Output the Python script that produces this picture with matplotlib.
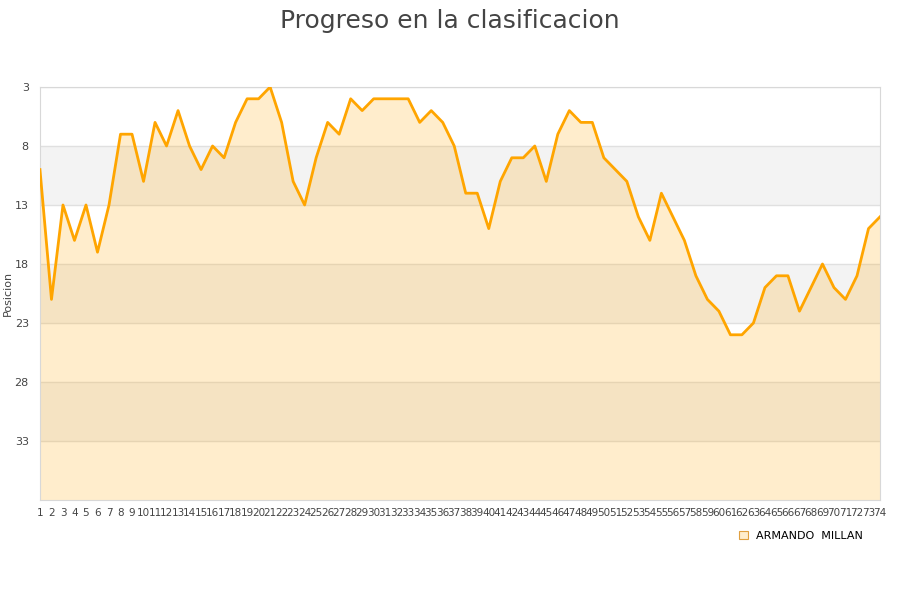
import numpy as np
import matplotlib
matplotlib.use("Agg")
import matplotlib.pyplot as plt
from matplotlib.patches import Patch

jornadas = list(range(1, 75))
posiciones = [10, 21, 13, 16, 13, 17, 13, 7, 7, 11,
              6, 8, 5, 8, 10, 8, 9, 6, 4, 4,
              3, 6, 11, 13, 9, 6, 7, 4, 5, 4,
              4, 4, 4, 6, 5, 6, 8, 12, 12, 15,
              11, 9, 9, 8, 11, 7, 5, 6, 6, 9,
              10, 11, 14, 16, 12, 14, 16, 19, 21, 22,
              24, 24, 23, 20, 19, 19, 22, 20, 18, 20,
              21, 19, 15, 14]
y_ticks = [3, 8, 13, 18, 23, 28, 33]
jugador = "ARMANDO  MILLAN"

fig = plt.figure(figsize=(9, 6), dpi=100)
ax = fig.add_axes([0.0444, 0.1667, 0.9334, 0.6883])

# bandas grises alternas
for lo in [8, 18, 28]:
    ax.axhspan(lo, lo + 5, color="#f3f3f3", zorder=0, lw=0)
for t in y_ticks:
    ax.axhline(t, color="#e0e0e0", lw=1, zorder=1)

ax.fill_between(jornadas, posiciones, 38, color="#ffa500", alpha=0.2, lw=0, zorder=2)
ax.plot(jornadas, posiciones, color="#ffa500", lw=2, zorder=3)

ax.set_xlim(1, 74)
ax.set_ylim(38, 3)
ax.set_yticks(y_ticks)
ax.set_xticks(jornadas)
ax.set_xticklabels([str(j) for j in jornadas], fontsize=7.5, color="#444444")
ax.tick_params(axis="y", labelsize=8, colors="#444444", length=0, pad=8)
ax.tick_params(axis="x", length=0, pad=6)
for s in ax.spines.values():
    s.set_color("#d8d8d8")
ax.set_ylabel("Posicion", fontsize=8, color="#444444", labelpad=1)

fig.suptitle("Progreso en la clasificacion", fontsize=18, color="#444444", y=0.985)

handle = Patch(facecolor="#ffedcc", edgecolor="#e0a040", lw=0.8)
fig.legend([handle], [jugador], loc="center", bbox_to_anchor=(0.89, 0.107),
           frameon=False, fontsize=8, handlelength=0.8, handleheight=0.8)

fig.savefig("out.png", dpi=100)
